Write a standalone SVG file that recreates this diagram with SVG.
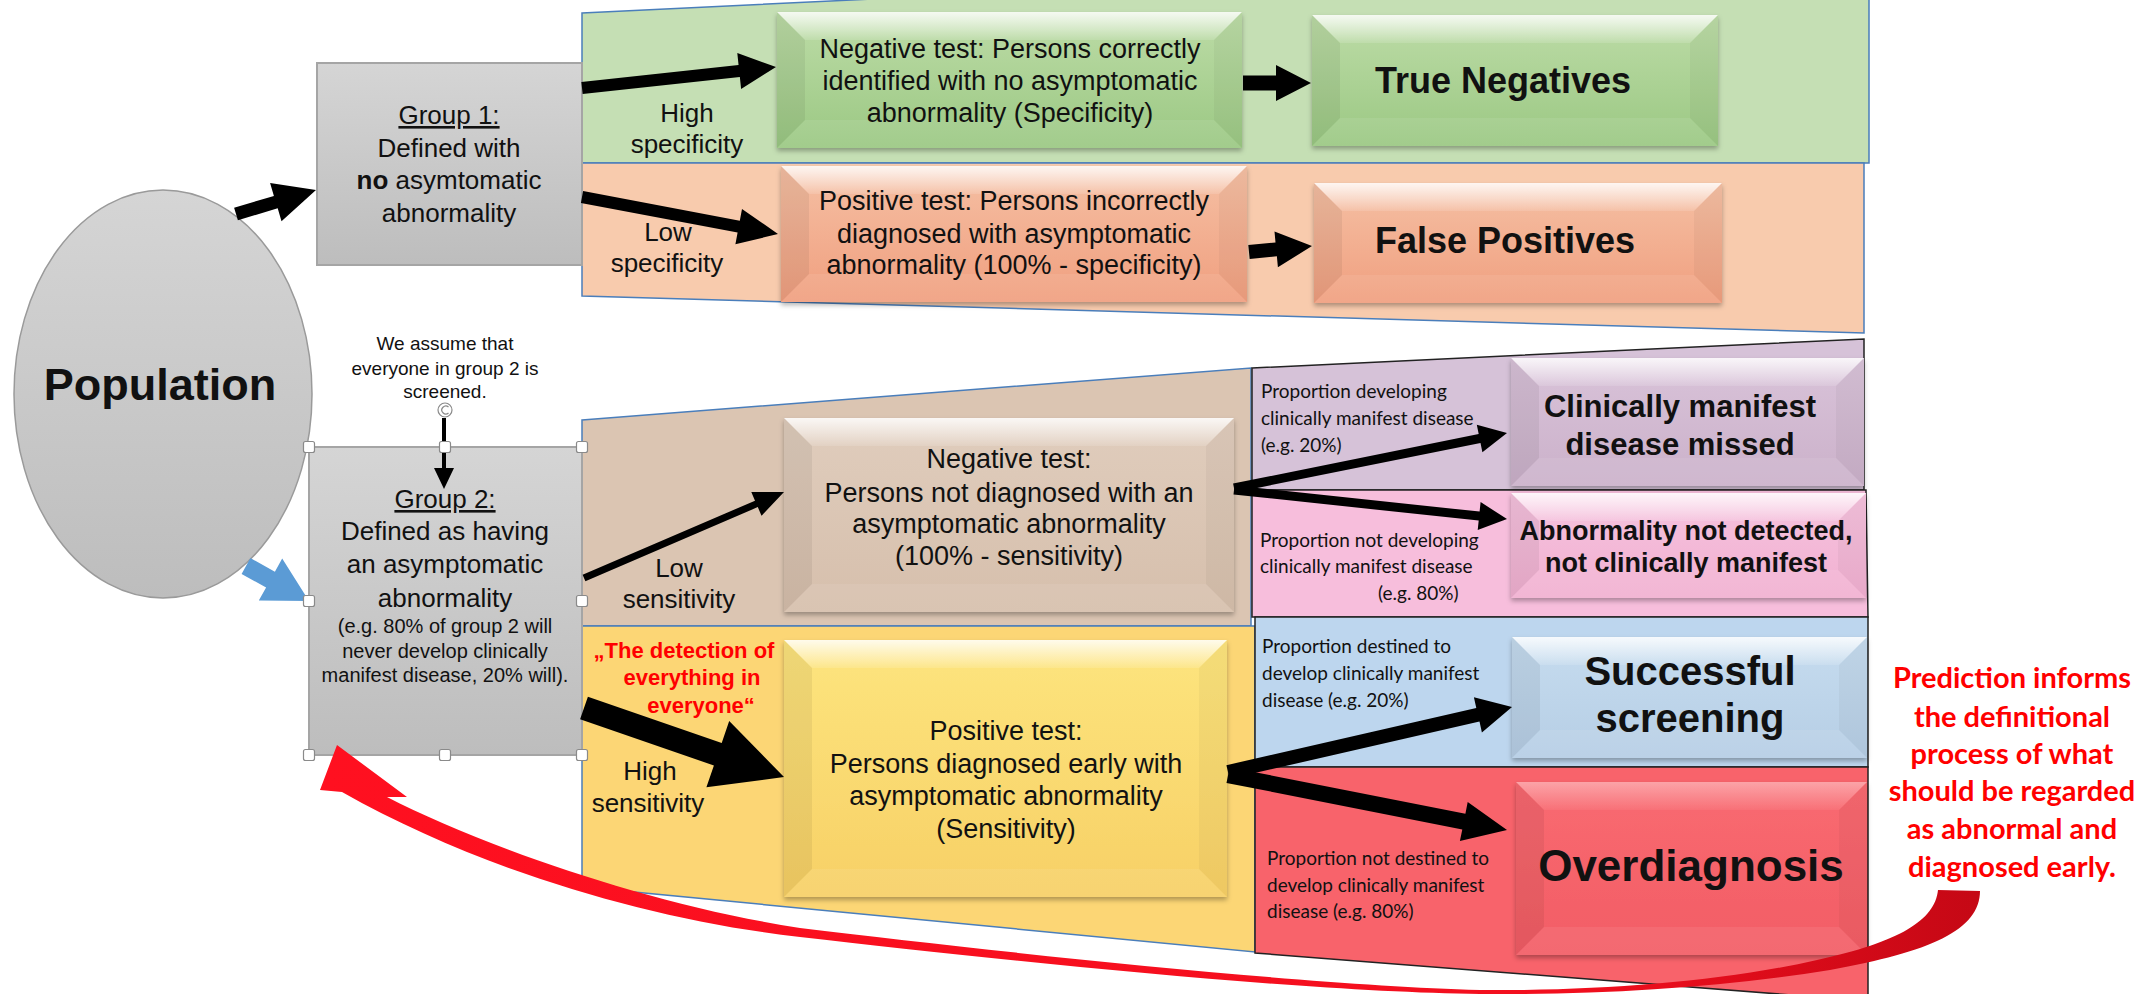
<svg xmlns="http://www.w3.org/2000/svg" width="2154" height="994" viewBox="0 0 2154 994">
<defs>
<style>
.t{font-family:"Liberation Sans",Arial,sans-serif;fill:#111}
.c{text-anchor:middle}
.b{font-weight:bold}
.cal{font-family:Lato,"Liberation Sans",sans-serif;fill:#111}
.s26{font-size:26px}
.s27{font-size:27px}
.s20{font-size:20px}
.s19{font-size:19px}
.p19{font-size:19px}
.red{fill:#ff0000}
.band1{stroke:#4a7ebb;stroke-width:1.5}
.band2{stroke:#222;stroke-width:1.5}
.bt{fill:url(#hl)}
.bl{fill:#000;opacity:.06}
.br{fill:#000;opacity:.035}
.bb{fill:#fff;opacity:.08}
.arr{fill:#000}
.hd{fill:#fff;stroke:#8a8a8a;stroke-width:1.2}
</style>
<linearGradient id="hl" x1="0" y1="0" x2="0" y2="1"><stop offset="0" stop-color="#fff" stop-opacity=".85"/><stop offset="1" stop-color="#fff" stop-opacity=".12"/></linearGradient>
<linearGradient id="gGray" x1="0" y1="0" x2="0" y2="1"><stop offset="0" stop-color="#d5d5d5"/><stop offset="1" stop-color="#bdbdbd"/></linearGradient>
<linearGradient id="gGreen" x1="0" y1="0" x2="0" y2="1"><stop offset="0" stop-color="#bddca7"/><stop offset="1" stop-color="#9bc883"/></linearGradient>
<linearGradient id="gSalmon" x1="0" y1="0" x2="0" y2="1"><stop offset="0" stop-color="#f5c0a4"/><stop offset="1" stop-color="#f09f7f"/></linearGradient>
<linearGradient id="gTan" x1="0" y1="0" x2="0" y2="1"><stop offset="0" stop-color="#e0cdbd"/><stop offset="1" stop-color="#d6bfac"/></linearGradient>
<linearGradient id="gYellow" x1="0" y1="0" x2="0" y2="1"><stop offset="0" stop-color="#fde57e"/><stop offset="1" stop-color="#f7d066"/></linearGradient>
<linearGradient id="gPurple" x1="0" y1="0" x2="0" y2="1"><stop offset="0" stop-color="#d9c3d9"/><stop offset="1" stop-color="#cbb1ca"/></linearGradient>
<linearGradient id="gPink" x1="0" y1="0" x2="0" y2="1"><stop offset="0" stop-color="#f6c3de"/><stop offset="1" stop-color="#f1b0d1"/></linearGradient>
<linearGradient id="gBlue" x1="0" y1="0" x2="0" y2="1"><stop offset="0" stop-color="#c6dcef"/><stop offset="1" stop-color="#b6cee5"/></linearGradient>
<linearGradient id="gRed" x1="0" y1="0" x2="0" y2="1"><stop offset="0" stop-color="#f96a71"/><stop offset="1" stop-color="#f25d65"/></linearGradient>
<linearGradient id="gRib" gradientUnits="userSpaceOnUse" x1="320" y1="0" x2="1980" y2="0"><stop offset="0" stop-color="#ff1020"/><stop offset=".75" stop-color="#f20f1e"/><stop offset="1" stop-color="#c50815"/></linearGradient>
<filter id="sh" x="-5%" y="-5%" width="110%" height="120%"><feDropShadow dx="0" dy="3" stdDeviation="2.5" flood-color="#000" flood-opacity=".3"/></filter>
</defs>
<rect width="2154" height="994" fill="#fff"/>

<g id="bands">
<polygon class="band1" fill="#c5dfb4" points="582,13 1869,-49 1869,163 582,163"/>
<polygon class="band1" fill="#f8cbad" points="582,163 1864,163 1864,333 582,296"/>
<polygon class="band1" fill="#dbc5b2" points="582,420 1251,368 1251,626 582,626"/>
<polygon class="band1" fill="#fcd675" points="582,626 1255,626 1255,952 582,887"/>
<polygon class="band2" fill="#d6c2d8" points="1252,368 1864,339 1864,490 1252,490"/>
<polygon class="band2" fill="#f7bedc" points="1252,490 1866,490 1868,617 1252,617"/>
<polygon class="band2" fill="#bdd6ee" points="1255,617 1868,617 1868,767 1255,767"/>
<polygon class="band2" fill="#f8636b" points="1255,767 1868,767 1868,1001 1255,953"/>
</g>

<g id="population">
<ellipse cx="163" cy="394" rx="149" ry="204" fill="url(#gGray)" stroke="#9a9a9a" stroke-width="1.5"/>
<text class="t c b" x="160" y="400" font-size="45">Population</text>
</g>

<g id="group1">
<rect x="317" y="63" width="265" height="202" fill="url(#gGray)" stroke="#a5a5a5" stroke-width="2"/>
<text class="t c s26" x="449" y="124" text-decoration="underline">Group 1:</text>
<text class="t c s26" x="449" y="157">Defined with</text>
<text class="t c s26" x="449" y="189"><tspan font-weight="bold">no</tspan> asymtomatic</text>
<text class="t c s26" x="449" y="222">abnormality</text>
</g>

<g id="group2">
<rect x="309" y="447" width="273" height="308" fill="url(#gGray)" stroke="#a5a5a5" stroke-width="2"/>
<text class="t c s26" x="445" y="508" text-decoration="underline">Group 2:</text>
<text class="t c s26" x="445" y="540">Defined as having</text>
<text class="t c s26" x="445" y="573">an asymptomatic</text>
<text class="t c s26" x="445" y="607">abnormality</text>
<text class="t c s20" x="445" y="633">(e.g. 80% of group 2 will</text>
<text class="t c s20" x="445" y="658">never develop clinically</text>
<text class="t c s20" x="445" y="682">manifest disease, 20% will).</text>
</g>

<g id="note-screened">
<text class="t c s19" x="445" y="350">We assume that</text>
<text class="t c s19" x="445" y="375">everyone in group 2 is</text>
<text class="t c s19" x="445" y="398">screened.</text>
</g>

<g id="neg-spec">
<g filter="url(#sh)">
<rect x="777" y="12" width="465" height="136" fill="url(#gGreen)"/>
<polygon class="bt" points="777,12 1242,12 1214,40 805,40"/>
<polygon class="bl" points="777,12 805,40 805,120 777,148"/>
<polygon class="br" points="1242,12 1242,148 1214,120 1214,40"/>
<polygon class="bb" points="777,148 805,120 1214,120 1242,148"/>
</g>
<text class="t c s27" x="1010" y="58">Negative test: Persons correctly</text>
<text class="t c s27" x="1010" y="90">identified with no asymptomatic</text>
<text class="t c s27" x="1010" y="122">abnormality (Specificity)</text>
</g>

<g id="pos-spec">
<g filter="url(#sh)">
<rect x="781" y="166" width="466" height="136" fill="url(#gSalmon)"/>
<polygon class="bt" points="781,166 1247,166 1219,194 809,194"/>
<polygon class="bl" points="781,166 809,194 809,274 781,302"/>
<polygon class="br" points="1247,166 1247,302 1219,274 1219,194"/>
<polygon class="bb" points="781,302 809,274 1219,274 1247,302"/>
</g>
<text class="t c s27" x="1014" y="210">Positive test: Persons incorrectly</text>
<text class="t c s27" x="1014" y="243">diagnosed with asymptomatic</text>
<text class="t c s27" x="1014" y="274">abnormality (100% - specificity)</text>
</g>

<g id="true-negatives">
<g filter="url(#sh)">
<rect x="1312" y="15" width="406" height="131" fill="url(#gGreen)"/>
<polygon class="bt" points="1312,15 1718,15 1690,43 1340,43"/>
<polygon class="bl" points="1312,15 1340,43 1340,118 1312,146"/>
<polygon class="br" points="1718,15 1718,146 1690,118 1690,43"/>
<polygon class="bb" points="1312,146 1340,118 1690,118 1718,146"/>
</g>
<text class="t c b" x="1503" y="93" font-size="36">True Negatives</text>
</g>

<g id="false-positives">
<g filter="url(#sh)">
<rect x="1314" y="183" width="408" height="120" fill="url(#gSalmon)"/>
<polygon class="bt" points="1314,183 1722,183 1694,211 1342,211"/>
<polygon class="bl" points="1314,183 1342,211 1342,275 1314,303"/>
<polygon class="br" points="1722,183 1722,303 1694,275 1694,211"/>
<polygon class="bb" points="1314,303 1342,275 1694,275 1722,303"/>
</g>
<text class="t c b" x="1505" y="253" font-size="36">False Positives</text>
</g>

<g id="neg-sens">
<g filter="url(#sh)">
<rect x="784" y="418" width="450" height="194" fill="url(#gTan)"/>
<polygon class="bt" points="784,418 1234,418 1206,446 812,446"/>
<polygon class="bl" points="784,418 812,446 812,584 784,612"/>
<polygon class="br" points="1234,418 1234,612 1206,584 1206,446"/>
<polygon class="bb" points="784,612 812,584 1206,584 1234,612"/>
</g>
<text class="t c s27" x="1009" y="468">Negative test:</text>
<text class="t c s27" x="1009" y="502">Persons not diagnosed with an</text>
<text class="t c s27" x="1009" y="533">asymptomatic abnormality</text>
<text class="t c s27" x="1009" y="565">(100% - sensitivity)</text>
</g>

<g id="pos-sens">
<g filter="url(#sh)">
<rect x="784" y="640" width="443" height="257" fill="url(#gYellow)"/>
<polygon class="bt" points="784,640 1227,640 1199,668 812,668"/>
<polygon class="bl" points="784,640 812,668 812,869 784,897"/>
<polygon class="br" points="1227,640 1227,897 1199,869 1199,668"/>
<polygon class="bb" points="784,897 812,869 1199,869 1227,897"/>
</g>
<text class="t c s27" x="1006" y="740">Positive test:</text>
<text class="t c s27" x="1006" y="773">Persons diagnosed early with</text>
<text class="t c s27" x="1006" y="805">asymptomatic abnormality</text>
<text class="t c s27" x="1006" y="838">(Sensitivity)</text>
</g>

<g id="clin-missed">
<g filter="url(#sh)">
<rect x="1511" y="358" width="353" height="128" fill="url(#gPurple)"/>
<polygon class="bt" points="1511,358 1864,358 1836,386 1539,386"/>
<polygon class="bl" points="1511,358 1539,386 1539,458 1511,486"/>
<polygon class="br" points="1864,358 1864,486 1836,458 1836,386"/>
<polygon class="bb" points="1511,486 1539,458 1836,458 1864,486"/>
</g>
<text class="t c b" x="1680" y="417" font-size="31">Clinically manifest</text>
<text class="t c b" x="1680" y="455" font-size="31">disease missed</text>
</g>

<g id="not-detected">
<g filter="url(#sh)">
<rect x="1511" y="493" width="355" height="105" fill="url(#gPink)"/>
<polygon class="bt" points="1511,493 1866,493 1838,521 1539,521"/>
<polygon class="bl" points="1511,493 1539,521 1539,570 1511,598"/>
<polygon class="br" points="1866,493 1866,598 1838,570 1838,521"/>
<polygon class="bb" points="1511,598 1539,570 1838,570 1866,598"/>
</g>
<text class="t c b" x="1686" y="540" font-size="27">Abnormality not detected,</text>
<text class="t c b" x="1686" y="572" font-size="27">not clinically manifest</text>
</g>

<g id="successful">
<g filter="url(#sh)">
<rect x="1512" y="637" width="355" height="121" fill="url(#gBlue)"/>
<polygon class="bt" points="1512,637 1867,637 1839,665 1540,665"/>
<polygon class="bl" points="1512,637 1540,665 1540,730 1512,758"/>
<polygon class="br" points="1867,637 1867,758 1839,730 1839,665"/>
<polygon class="bb" points="1512,758 1540,730 1839,730 1867,758"/>
</g>
<text class="t c b" x="1690" y="685" font-size="40">Successful</text>
<text class="t c b" x="1690" y="732" font-size="40">screening</text>
</g>

<g id="overdiagnosis">
<g filter="url(#sh)">
<rect x="1516" y="782" width="351" height="173" fill="url(#gRed)"/>
<polygon class="bt" points="1516,782 1867,782 1839,810 1544,810" opacity=".45"/>
<polygon class="bl" points="1516,782 1544,810 1544,927 1516,955"/>
<polygon class="br" points="1867,782 1867,955 1839,927 1839,810"/>
<polygon class="bb" points="1516,955 1544,927 1839,927 1867,955"/>
</g>
<text class="t c b" x="1691" y="881" font-size="44">Overdiagnosis</text>
</g>

<g id="labels">
<text class="t c s26" x="687" y="122">High</text>
<text class="t c s26" x="687" y="153">specificity</text>
<text class="t c s26" x="668" y="241">Low</text>
<text class="t c s26" x="667" y="272">specificity</text>
<text class="t c s26" x="679" y="577">Low</text>
<text class="t c s26" x="679" y="608">sensitivity</text>
<text class="t c s26" x="650" y="780">High</text>
<text class="t c s26" x="648" y="812">sensitivity</text>
<text class="t c b red" x="684" y="658" font-size="22" style="fill:#ff0000">„The detection of</text>
<text class="t c b red" x="692" y="685" font-size="22" style="fill:#ff0000">everything in</text>
<text class="t c b red" x="701" y="713" font-size="22" style="fill:#ff0000">everyone“</text>
</g>

<g id="proportions">
<text class="cal p19" x="1261" y="398">Proportion developing</text>
<text class="cal p19" x="1261" y="425">clinically manifest disease</text>
<text class="cal p19" x="1261" y="452">(e.g. 20%)</text>
<text class="cal p19" x="1260" y="547">Proportion not developing</text>
<text class="cal p19" x="1260" y="573">clinically manifest disease</text>
<text class="cal p19" x="1378" y="600">(e.g. 80%)</text>
<text class="cal p19" x="1262" y="653">Proportion destined to</text>
<text class="cal p19" x="1262" y="680">develop clinically manifest</text>
<text class="cal p19" x="1262" y="707">disease (e.g. 20%)</text>
<text class="cal p19" x="1267" y="865">Proportion not destined to</text>
<text class="cal p19" x="1267" y="892">develop clinically manifest</text>
<text class="cal p19" x="1267" y="918">disease (e.g. 80%)</text>
</g>

<g id="prediction-note" font-family="Lato,'Liberation Sans',sans-serif" font-weight="bold" font-size="29" fill="#ff0000" text-anchor="middle">
<text x="2012" y="688">Prediction informs</text>
<text x="2012" y="727">the definitional</text>
<text x="2012" y="764">process of what</text>
<text x="2012" y="801">should be regarded</text>
<text x="2012" y="839">as abnormal and</text>
<text x="2012" y="877">diagnosed early.</text>
</g>

<g id="connectors">
<polygon class="arr" points="237.9,220.2 277.7,208.3 281.5,221.3 316,190 270.1,182.9 273.9,195.9 234.1,207.8"/>
<polygon fill="#5b9bd5" points="241.6,573.9 266.1,587.5 258.8,600.6 309,601 282.2,558.6 274.9,571.7 250.4,558.1"/>
<polygon class="arr" points="582.65,93.96 739.85,76.96 741.1,88.9 776,67 737.3,53.1 738.55,65.04 581.35,82.04"/>
<polygon class="arr" points="580.9,202.9 737.6,232.5 735.4,244.3 778,234 742,208.9 739.8,220.7 583.1,191.1"/>
<polygon class="arr" points="1243,75.5 1276,75.5 1276,65 1311,83 1276,101 1276,90.5 1243,90.5"/>
<polygon class="arr" points="1249.67,258.97 1276.87,256.37 1277.9,267.3 1312,246 1274.5,231.5 1275.5,242.4 1248.3,245"/>
<polygon class="arr" points="442,418 446,418 446,468 454,468 444,489 434,468 442,468"/>
<polygon class="arr" points="585.4,581.2 757.8,507.1 761.5,515.8 784,492 751.3,491.9 755,500.7 582.6,574.8"/>
<polygon class="arr" points="580.1,719.3 713.9,765.5 706.4,787.3 784,777 729.2,721.1 721.7,742.9 587.9,696.7"/>
<polygon class="arr" points="1234.9,492.4 1480.5,442.9 1482.4,452.2 1507,433 1476.8,424.8 1478.7,434.1 1233.1,483.6"/>
<polygon class="arr" points="1233.5,494.5 1478.7,520.5 1477.7,530 1507,519 1480.6,502.1 1479.6,511.6 1234.5,485.5"/>
<polygon class="arr" points="1229.6,778.8 1479.5,721.6 1481.9,732.4 1512,707 1473.9,697.3 1476.3,708 1226.4,765.2"/>
<polygon class="arr" points="1226.5,782.9 1462.3,829.4 1459.9,841.1 1507,830 1467.7,801.9 1465.4,813.7 1229.6,767.2"/>
<path fill="url(#gRib)" d="M1980,891 C1980,930 1930,952 1830,970 C1720,988 1600,995 1480,994 C1300,992 1000,960 800,937 C650,920 480,870 342,792 L320,790 L337,745 L407,797 L387,797 C480,845 650,905 800,928 C1000,952 1300,985 1480,990 C1600,991 1720,982 1817,960 C1900,942 1935,920 1938,890 Z"/>
</g>

<g id="selection-handles">
<rect class="hd" x="303.5" y="441.5" width="11" height="11" rx="2"/>
<rect class="hd" x="439.5" y="441.5" width="11" height="11" rx="2"/>
<rect class="hd" x="576.5" y="441.5" width="11" height="11" rx="2"/>
<rect class="hd" x="303.5" y="595.5" width="11" height="11" rx="2"/>
<rect class="hd" x="576.5" y="595.5" width="11" height="11" rx="2"/>
<rect class="hd" x="303.5" y="749.5" width="11" height="11" rx="2"/>
<rect class="hd" x="439.5" y="749.5" width="11" height="11" rx="2"/>
<rect class="hd" x="576.5" y="749.5" width="11" height="11" rx="2"/>
<circle class="hd" cx="445" cy="410" r="7"/>
<path d="M448.5,407 A4,4 0 1 0 448.5,413" fill="none" stroke="#8a8a8a" stroke-width="1.2"/>
</g>
</svg>
